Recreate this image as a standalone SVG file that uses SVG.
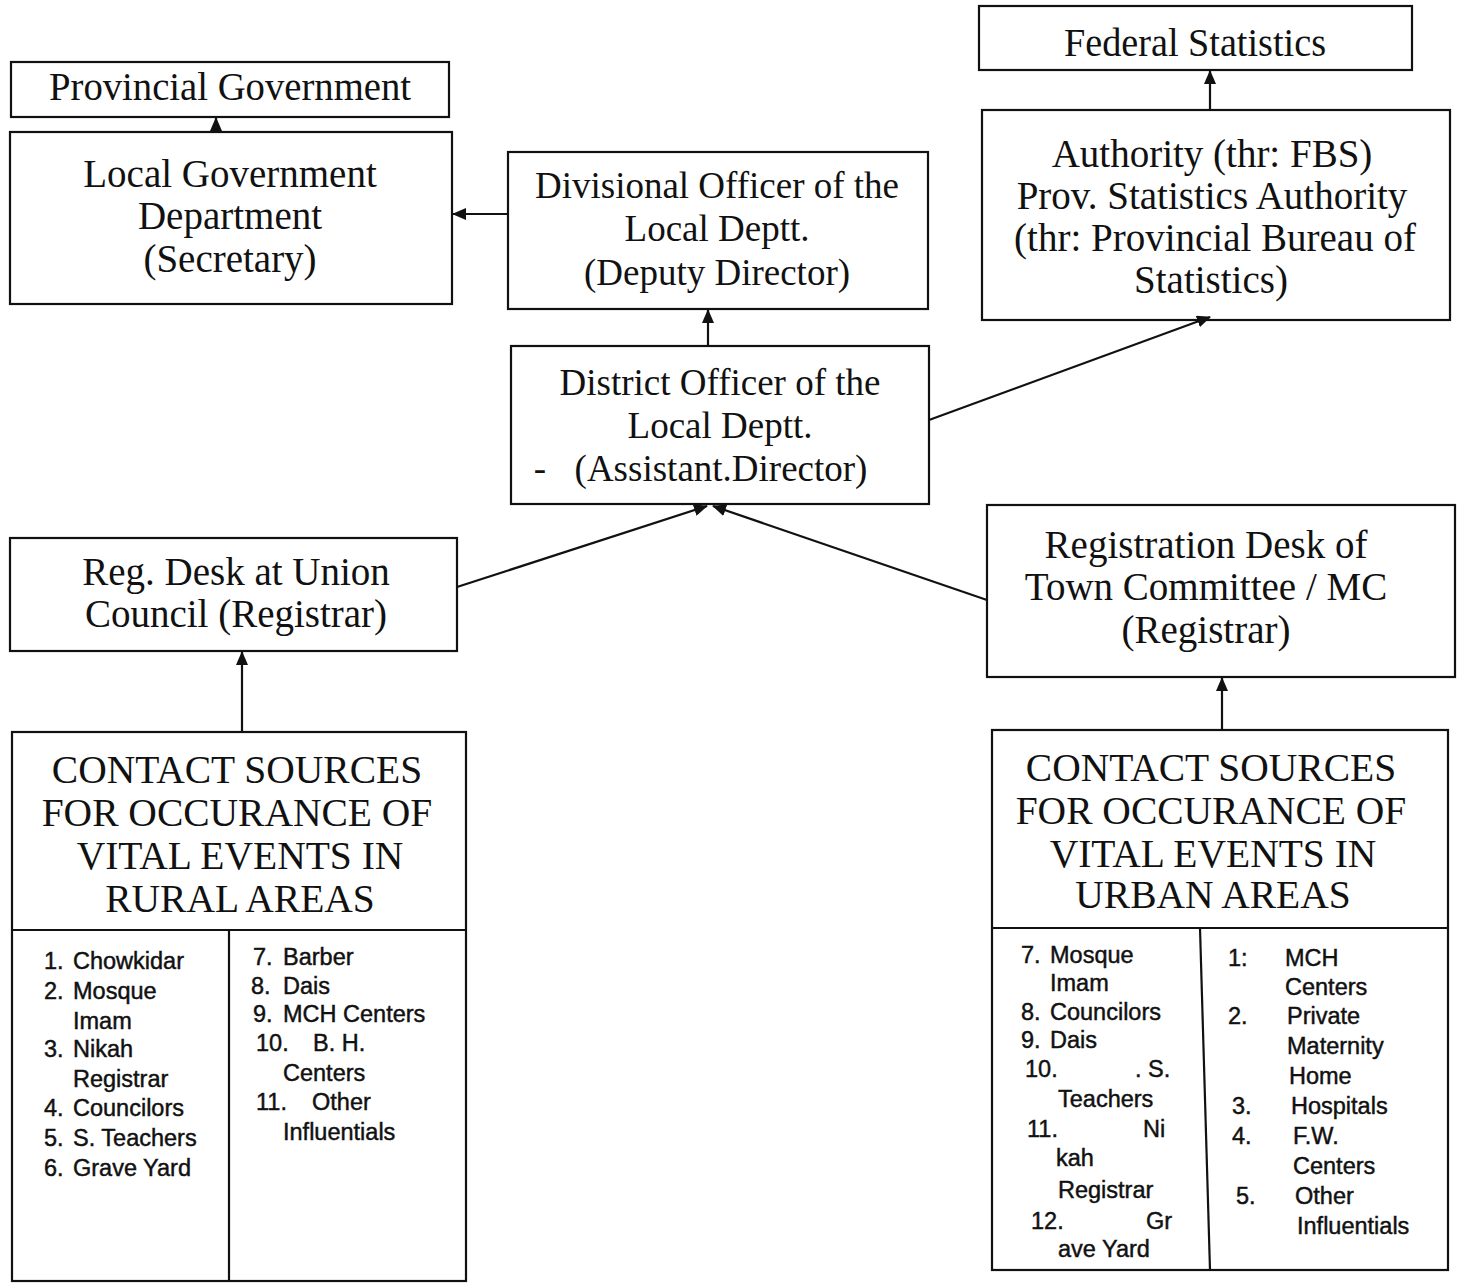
<svg xmlns="http://www.w3.org/2000/svg" width="1464" height="1286" viewBox="0 0 1464 1286">
<defs>
<style>
.box{fill:#fff;stroke:#111;stroke-width:2.2}
.t{font-family:"Liberation Serif","Times New Roman",serif;font-size:39px;fill:#111;text-anchor:middle}
.t37{font-size:37px}
.h{font-family:"Liberation Serif","Times New Roman",serif;font-size:39.5px;fill:#111;text-anchor:middle}
.l{font-family:"Liberation Sans",Arial,sans-serif;font-size:23.5px;fill:#111;stroke:#111;stroke-width:0.45}
.c{stroke:#111;stroke-width:2.2;fill:none}
</style>
<marker id="ah" viewBox="0 0 14 12" refX="13" refY="6" markerWidth="14" markerHeight="12" markerUnits="userSpaceOnUse" orient="auto">
<path d="M0,0 L14,6 L0,12 Z" fill="#111"/>
</marker>
</defs>
<rect width="1464" height="1286" fill="#fff"/>

<g id="provincial-government">
<rect class="box" x="11" y="62" width="438" height="55"/>
<text class="t" x="230" y="100" font-size="36" textLength="362" lengthAdjust="spacingAndGlyphs">Provincial Government</text>
</g>

<g id="local-government-department">
<rect class="box" x="10" y="132" width="442" height="172"/>
<text class="t" x="230" y="187">Local Government</text>
<text class="t" x="230" y="229">Department</text>
<text class="t" x="230" y="272">(Secretary)</text>
</g>

<g id="divisional-officer">
<rect class="box" x="508" y="152" width="420" height="157"/>
<text class="t t37" x="717" y="198">Divisional Officer of the</text>
<text class="t t37" x="717" y="241">Local Deptt.</text>
<text class="t t37" x="717" y="285">(Deputy Director)</text>
</g>

<g id="federal-statistics">
<rect class="box" x="979" y="6" width="433" height="64"/>
<text class="t" x="1195" y="56" font-size="36" textLength="262" lengthAdjust="spacingAndGlyphs">Federal Statistics</text>
</g>

<g id="statistics-authority">
<rect class="box" x="982" y="110" width="468" height="210"/>
<text class="t" x="1212" y="167">Authority (thr: FBS)</text>
<text class="t" x="1212" y="209">Prov. Statistics Authority</text>
<text class="t" x="1215" y="251">(thr: Provincial Bureau of</text>
<text class="t" x="1211" y="293">Statistics)</text>
</g>

<g id="district-officer">
<rect class="box" x="511" y="346" width="418" height="158"/>
<text class="t t37" x="720" y="395">District Officer of the</text>
<text class="t t37" x="720" y="438">Local Deptt.</text>
<text class="t t37" x="540" y="481">-</text>
<text class="t t37" x="721" y="481">(Assistant.Director)</text>
</g>

<g id="reg-desk-union-council">
<rect class="box" x="10" y="538" width="447" height="113"/>
<text class="t" x="236" y="585">Reg. Desk at Union</text>
<text class="t" x="236" y="627">Council (Registrar)</text>
</g>

<g id="registration-desk-town-committee">
<rect class="box" x="987" y="505" width="468" height="172"/>
<text class="t" x="1206" y="558">Registration Desk of</text>
<text class="t" x="1206" y="600">Town Committee / MC</text>
<text class="t" x="1206" y="643">(Registrar)</text>
</g>

<g id="contact-sources-rural">
<rect class="box" x="12" y="732" width="454" height="549"/>
<line class="c" x1="12" y1="930" x2="466" y2="930"/>
<line class="c" x1="229" y1="930" x2="229" y2="1281"/>
<text class="h" x="237" y="783">CONTACT SOURCES</text>
<text class="h" x="237" y="826">FOR OCCURANCE OF</text>
<text class="h" x="240" y="869">VITAL EVENTS IN</text>
<text class="h" x="240" y="912">RURAL AREAS</text>
<g class="l">
<text x="44" y="969">1.</text><text x="73" y="969">Chowkidar</text>
<text x="44" y="999">2.</text><text x="73" y="999">Mosque</text>
<text x="73" y="1029">Imam</text>
<text x="44" y="1057">3.</text><text x="73" y="1057">Nikah</text>
<text x="73" y="1087">Registrar</text>
<text x="44" y="1116">4.</text><text x="73" y="1116">Councilors</text>
<text x="44" y="1146">5.</text><text x="73" y="1146">S. Teachers</text>
<text x="44" y="1176">6.</text><text x="73" y="1176">Grave Yard</text>
<text x="253" y="965">7.</text><text x="283" y="965">Barber</text>
<text x="251" y="994">8.</text><text x="283" y="994">Dais</text>
<text x="253" y="1022">9.</text><text x="283" y="1022">MCH Centers</text>
<text x="256" y="1051">10.</text><text x="313" y="1051">B. H.</text>
<text x="283" y="1081">Centers</text>
<text x="256" y="1110">11.</text><text x="312" y="1110">Other</text>
<text x="283" y="1140">Influentials</text>
</g>
</g>

<g id="contact-sources-urban">
<rect class="box" x="992" y="730" width="456" height="540"/>
<line class="c" x1="992" y1="928" x2="1448" y2="928"/>
<line class="c" x1="1200" y1="928" x2="1210" y2="1270"/>
<text class="h" x="1211" y="781">CONTACT SOURCES</text>
<text class="h" x="1211" y="824">FOR OCCURANCE OF</text>
<text class="h" x="1213" y="867">VITAL EVENTS IN</text>
<text class="h" x="1213" y="908">URBAN AREAS</text>
<g class="l">
<text x="1021" y="963">7.</text><text x="1050" y="963">Mosque</text>
<text x="1050" y="991">Imam</text>
<text x="1021" y="1020">8.</text><text x="1050" y="1020">Councilors</text>
<text x="1021" y="1048">9.</text><text x="1050" y="1048">Dais</text>
<text x="1025" y="1077">10.</text><text x="1135" y="1077">. S.</text>
<text x="1058" y="1107">Teachers</text>
<text x="1027" y="1137">11.</text><text x="1143" y="1137">Ni</text>
<text x="1056" y="1166">kah</text>
<text x="1058" y="1198">Registrar</text>
<text x="1031" y="1229">12.</text><text x="1146" y="1229">Gr</text>
<text x="1058" y="1257">ave Yard</text>
<text x="1228" y="966">1:</text><text x="1285" y="966">MCH</text>
<text x="1285" y="995">Centers</text>
<text x="1228" y="1024">2.</text><text x="1287" y="1024">Private</text>
<text x="1287" y="1054">Maternity</text>
<text x="1289" y="1084">Home</text>
<text x="1232" y="1114">3.</text><text x="1291" y="1114">Hospitals</text>
<text x="1232" y="1144">4.</text><text x="1293" y="1144">F.W.</text>
<text x="1293" y="1174">Centers</text>
<text x="1236" y="1204">5.</text><text x="1295" y="1204">Other</text>
<text x="1297" y="1234">Influentials</text>
</g>
</g>

<g id="connectors">
<line class="c" x1="216" y1="132" x2="216" y2="118" marker-end="url(#ah)"/>
<line class="c" x1="508" y1="214" x2="453" y2="214" marker-end="url(#ah)"/>
<line class="c" x1="708" y1="346" x2="708" y2="310" marker-end="url(#ah)"/>
<line class="c" x1="1210" y1="110" x2="1210" y2="71" marker-end="url(#ah)"/>
<line class="c" x1="929" y1="420" x2="1210" y2="317" marker-end="url(#ah)"/>
<line class="c" x1="457" y1="587" x2="707" y2="506" marker-end="url(#ah)"/>
<line class="c" x1="987" y1="600" x2="713" y2="506" marker-end="url(#ah)"/>
<line class="c" x1="242" y1="732" x2="242" y2="652" marker-end="url(#ah)"/>
<line class="c" x1="1222" y1="730" x2="1222" y2="678" marker-end="url(#ah)"/>
</g>
</svg>
